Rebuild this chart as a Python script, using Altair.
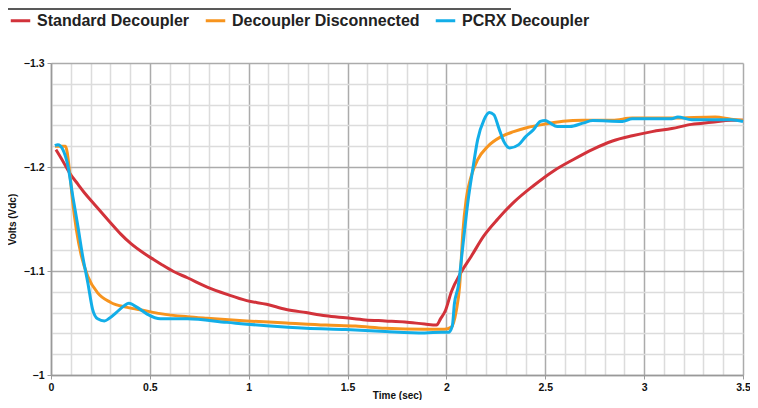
import altair as alt
import pandas as pd

series_names = ["Standard Decoupler", "Decoupler Disconnected", "PCRX Decoupler"]
series_colors = ["#d2323a", "#f7941e", "#12aee8"]

red_t = [0.025, 0.053, 0.095, 0.136, 0.17, 0.22, 0.261, 0.303, 0.353, 0.403, 0.47, 0.519,
         0.561, 0.62, 0.69, 0.79, 0.89, 0.99, 1.09, 1.19, 1.29, 1.39, 1.49, 1.59, 1.69, 1.79,
         1.89, 1.95, 1.97, 1.995, 2.025, 2.075, 2.125, 2.19, 2.26, 2.34, 2.44, 2.54, 2.64,
         2.74, 2.84, 2.94, 3.04, 3.14, 3.24, 3.34, 3.44, 3.5]
red_v = [-1.2167, -1.208, -1.194, -1.1835, -1.175, -1.164, -1.155, -1.146, -1.1355,
         -1.1265, -1.117, -1.111, -1.106, -1.0995, -1.0935, -1.0845, -1.0775, -1.0715, -1.068,
         -1.063, -1.060, -1.057, -1.055, -1.053, -1.052, -1.051, -1.049, -1.048, -1.054,
         -1.062, -1.080, -1.099, -1.114, -1.134, -1.150, -1.166, -1.182, -1.196, -1.207,
         -1.217, -1.225, -1.230, -1.234, -1.237, -1.241, -1.243, -1.245, -1.245]

orange_t = [0.02, 0.073, 0.095, 0.11, 0.128, 0.153, 0.186, 0.236, 0.30, 0.386, 0.47, 0.553,
            0.69, 0.79, 0.99, 1.19, 1.39, 1.54, 1.69, 1.89, 1.99, 2.025, 2.05, 2.067, 2.083,
            2.1, 2.125, 2.158, 2.21, 2.275, 2.34, 2.41, 2.49, 2.59, 2.69, 2.84, 2.94, 3.14,
            3.36, 3.44, 3.5]
orange_v = [-1.220, -1.220, -1.194, -1.166, -1.140, -1.115, -1.095, -1.079, -1.070, -1.065,
            -1.062, -1.059, -1.056, -1.0545, -1.052, -1.050, -1.048, -1.047, -1.045, -1.044,
            -1.044, -1.046, -1.062, -1.086, -1.137, -1.169, -1.191, -1.207, -1.220, -1.229,
            -1.234, -1.238, -1.241, -1.244, -1.245, -1.245, -1.247, -1.247, -1.248, -1.246,
            -1.245]

blue_t = [0.02, 0.035, 0.06, 0.086, 0.11, 0.136, 0.16, 0.186, 0.21, 0.236, 0.27, 0.295, 0.33,
          0.37, 0.394, 0.436, 0.486, 0.553, 0.69, 0.89, 1.09, 1.29, 1.49, 1.69, 1.89, 1.975,
          2.01, 2.03, 2.04, 2.06, 2.083, 2.108, 2.133, 2.158, 2.19, 2.217, 2.24, 2.265, 2.29,
          2.32, 2.366, 2.40, 2.44, 2.475, 2.50, 2.525, 2.56, 2.625, 2.69, 2.74, 2.89, 2.94,
          3.14, 3.17, 3.24, 3.44, 3.5]
blue_v = [-1.2205, -1.2215, -1.2167, -1.2006, -1.172, -1.143, -1.1145, -1.089, -1.0634,
          -1.054, -1.052, -1.0545, -1.060, -1.0666, -1.069, -1.065, -1.0586, -1.054, -1.054,
          -1.0506, -1.0474, -1.045, -1.0437, -1.0418, -1.0405, -1.041, -1.041, -1.0474,
          -1.068, -1.0857, -1.124, -1.1656, -1.1975, -1.2263, -1.2454, -1.2524, -1.2502,
          -1.2374, -1.2246, -1.2183, -1.2215, -1.229, -1.2358, -1.2438, -1.2447, -1.2422,
          -1.239, -1.239, -1.2422, -1.2447, -1.2438, -1.2464, -1.2464, -1.248, -1.2454,
          -1.2454, -1.2438]

x_ticks = [round(i * 0.1, 2) for i in range(0, 36)]
y_ticks = [round(-1.3 + i * 0.02, 2) for i in range(0, 16)]

rows = []
for name, ts, vs in zip(series_names, [red_t, orange_t, blue_t], [red_v, orange_v, blue_v]):
    for i, (t, v) in enumerate(zip(ts, vs)):
        rows.append({"series": name, "time": t, "volts": v, "idx": i})
df = pd.DataFrame(rows)

FONT = "Liberation Sans"

x_axis = alt.Axis(
    values=x_ticks, title="Time (sec)", format=".1~f",
    labelExpr="abs(round(datum.value*10)) % 5 == 0 ? datum.label : ''",
    gridColor={"condition": {"test": "abs(round(datum.value*10)) % 5 == 0", "value": "#ababab"}, "value": "#dcdcdc"},
    gridWidth=1.5,
    tickColor={"condition": {"test": "abs(round(datum.value*10)) % 5 == 0", "value": "#999999"}, "value": "transparent"},
    tickSize=4, domainColor="#999999", domainWidth=1.5,
    labelFont=FONT, labelFontWeight="bold", labelFontSize=10.5, labelColor="#111",
    titleFont=FONT, titleFontWeight="bold", titleFontSize=10, titleColor="#111",
    titleY=23, titleBaseline="alphabetic", labelPadding=3, labelFlush=False,
)
y_axis = alt.Axis(
    values=y_ticks, title="Volts (Vdc)", format=".1~f",
    labelExpr="abs(round(datum.value*100)) % 10 == 0 ? datum.label : ''",
    gridColor={"condition": {"test": "abs(round(datum.value*100)) % 10 == 0", "value": "#ababab"}, "value": "#dcdcdc"},
    gridWidth=1.5,
    tickColor={"condition": {"test": "abs(round(datum.value*100)) % 10 == 0", "value": "#999999"}, "value": "transparent"},
    tickSize=4, domainColor="#999999", domainWidth=1.5,
    labelFont=FONT, labelFontWeight="bold", labelFontSize=10.5, labelColor="#111",
    titleFont=FONT, titleFontWeight="bold", titleFontSize=10, titleColor="#111",
    titlePadding=6, labelPadding=3, labelFlush=False,
)

lines = alt.Chart(df).mark_line(strokeWidth=3, interpolate="monotone").encode(
    x=alt.X("time:Q", scale=alt.Scale(domain=[0, 3.5], nice=False, zero=False), axis=x_axis),
    y=alt.Y("volts:Q", scale=alt.Scale(domain=[-1.3, -1.0], reverse=True, nice=False, zero=False), axis=y_axis),
    color=alt.Color("series:N", sort=series_names,
                    scale=alt.Scale(domain=series_names, range=series_colors),
                    legend=alt.Legend(
                        title=None, orient="none", direction="horizontal",
                        legendX=-42, legendY=-54,
                        symbolType="stroke", symbolStrokeWidth=3, symbolSize=380,
                        labelFont=FONT, labelFontWeight="bold", labelFontSize=16,
                        labelColor="#222", labelOffset=5, columnPadding=9, labelLimit=0,
                    )),
    order="idx:Q",
)

top_rule = alt.Chart(pd.DataFrame({"a": [0]})).mark_rule(color="#222", strokeWidth=1.5).encode(
    x=alt.value(-43), x2=alt.value(460), y=alt.value(-54)
)

chart = alt.layer(lines, top_rule).properties(
    width=692, height=312,
    padding={"left": 43, "top": 55, "right": 7, "bottom": 25},
    autosize=alt.AutoSizeParams(type="none"),
).configure_view(stroke=None)

chart.save("out.html", embed_options={"renderer": "svg", "actions": False})
